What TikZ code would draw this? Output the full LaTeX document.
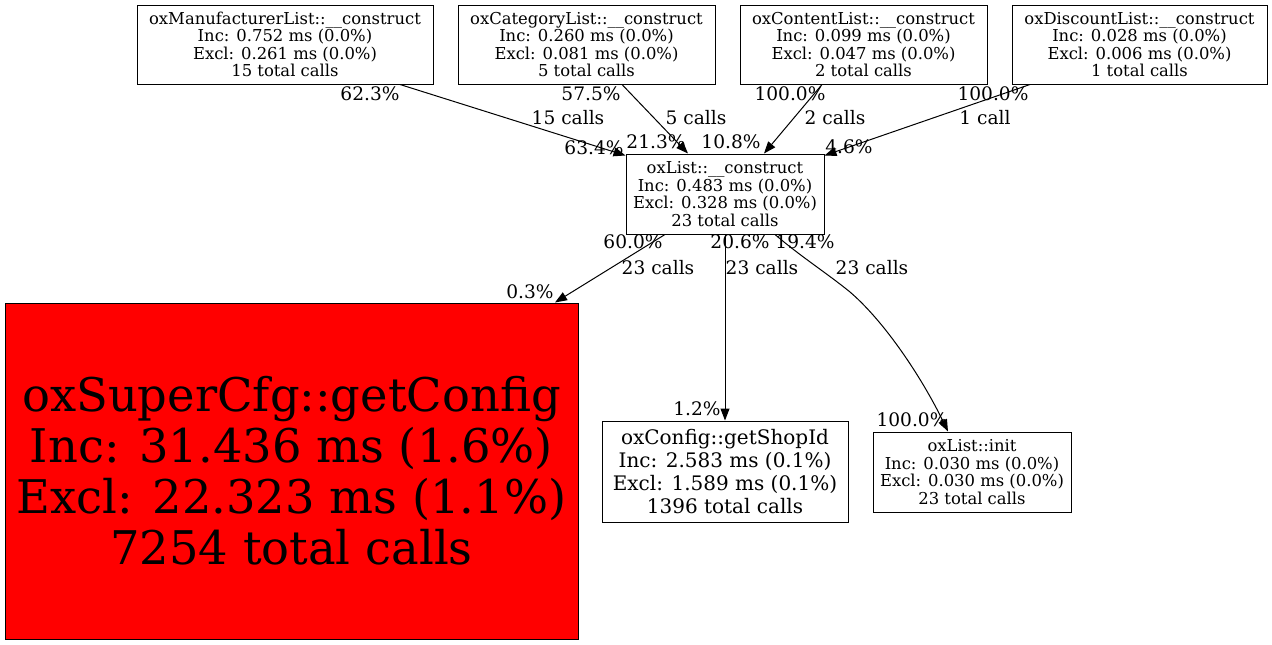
\documentclass[tikz,border=0pt]{standalone}
\usepackage{fontspec}
\setmainfont{DejaVu Serif}
\usetikzlibrary{arrows.meta,calc}
\begin{document}
\begin{tikzpicture}[x=1pt,y=-1pt,
  fn/.style={draw=black,line width=1pt,inner sep=0pt,align=center},
  smallfn/.style={fn,font=\fontsize{16.4}{17.4}\selectfont},
  midfn/.style={fn,font=\fontsize{20}{22.7}\selectfont},
  bigfn/.style={fn,fill=red,font=\fontsize{46.4}{51}\selectfont},
  lbl/.style={inner sep=0pt,font=\fontsize{18.6}{20}\selectfont},
  edge/.style={draw=black,line width=1pt,-{Triangle[length=12pt,width=9pt]}}]
\useasboundingbox (0,0) rectangle (1272,645);
\fill[white] (0,0) rectangle (1272,645);
% nodes
\node[smallfn,minimum width=296,minimum height=79] (mfr) at (285,44.5)
  {oxManufacturerList::\_\_construct\\Inc: 0.752 ms (0.0\%)\\Excl: 0.261 ms (0.0\%)\\15 total calls};
\node[smallfn,minimum width=257,minimum height=79] (cat) at (586.5,44.5)
  {oxCategoryList::\_\_construct\\Inc: 0.260 ms (0.0\%)\\Excl: 0.081 ms (0.0\%)\\5 total calls};
\node[smallfn,minimum width=247,minimum height=79] (cnt) at (863.5,44.5)
  {oxContentList::\_\_construct\\Inc: 0.099 ms (0.0\%)\\Excl: 0.047 ms (0.0\%)\\2 total calls};
\node[smallfn,minimum width=255,minimum height=79] (dis) at (1139.5,44.5)
  {oxDiscountList::\_\_construct\\Inc: 0.028 ms (0.0\%)\\Excl: 0.006 ms (0.0\%)\\1 total calls};
\node[smallfn,minimum width=198,minimum height=80] (lst) at (725,194)
  {oxList::\_\_construct\\Inc: 0.483 ms (0.0\%)\\Excl: 0.328 ms (0.0\%)\\23 total calls};
\node[bigfn,minimum width=573,minimum height=336] (cfg) at (291.5,471)
  {oxSuperCfg::getConfig\\Inc: 31.436 ms (1.6\%)\\Excl: 22.323 ms (1.1\%)\\7254 total calls};
\node[midfn,minimum width=246,minimum height=101] (shop) at (725,471.5)
  {oxConfig::getShopId\\Inc: 2.583 ms (0.1\%)\\Excl: 1.589 ms (0.1\%)\\1396 total calls};
\node[smallfn,minimum width=198,minimum height=80] (init) at (972,472)
  {oxList::init\\Inc: 0.030 ms (0.0\%)\\Excl: 0.030 ms (0.0\%)\\23 total calls};
% edges
\draw[edge] ([xshift=115pt]mfr.south) -- ([yshift=-2pt]lst.north west);
\draw[edge] ([xshift=35.5pt]cat.south) -- ([xshift=-37pt]lst.north);
\draw[edge] ([xshift=-41.5pt]cnt.south) -- ([xshift=39pt]lst.north);
\draw[edge] ([xshift=-109.5pt]dis.south) -- ([yshift=-2pt]lst.north east);
\draw[edge] ([xshift=-60pt]lst.south) -- ([xshift=263.5pt]cfg.north);
\draw[edge] (lst.south) -- (shop.north);
\draw[edge] ([xshift=50pt]lst.south) .. controls (800,256) and (828,274) .. (850,292)
  .. controls (885,322) and (922,378) .. ([xshift=-24pt]init.north);
% labels
\node[lbl] (l1) at (370,94) {62.3\%};
\node[lbl] (l2) at (568,118) {15 calls};
\node[lbl] (l3) at (594,148) {63.4\%};
\node[lbl] (l4) at (591,94) {57.5\%};
\node[lbl] (l5) at (696,118) {5 calls};
\node[lbl] (l6) at (656,142) {21.3\%};
\node[lbl] (l7) at (731,142) {10.8\%};
\node[lbl] (l8) at (790,94) {100.0\%};
\node[lbl] (l9) at (835,118) {2 calls};
\node[lbl] (l10) at (993,94) {100.0\%};
\node[lbl] (l11) at (985,118) {1 call};
\node[lbl] (l12) at (849,147) {4.6\%};
\node[lbl] (l13) at (633,242) {60.0\%};
\node[lbl] (l14) at (658,268) {23 calls};
\node[lbl] (l15) at (530,292) {0.3\%};
\node[lbl] (l16) at (740,242) {20.6\%};
\node[lbl] (l17) at (762,268) {23 calls};
\node[lbl] (l18) at (805,242) {19.4\%};
\node[lbl] (l19) at (872,268) {23 calls};
\node[lbl] (l20) at (697,409) {1.2\%};
\node[lbl] (l21) at (912,420) {100.0\%};
\end{tikzpicture}
\end{document}
